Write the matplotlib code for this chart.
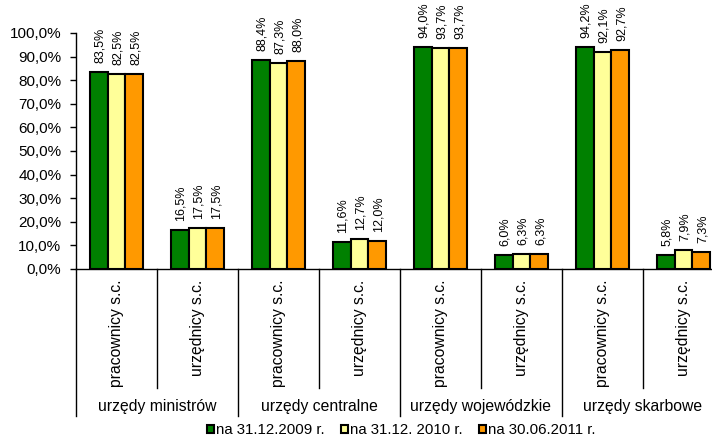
import matplotlib
matplotlib.use("Agg")
import matplotlib.pyplot as plt
from matplotlib.patches import Patch
import numpy as np

plt.rcParams['font.family'] = ['Liberation Sans', 'DejaVu Sans']

groups = ["urzędy ministrów", "urzędy centralne", "urzędy wojewódzkie", "urzędy skarbowe"]
subcats = ["pracownicy s.c.", "urzędnicy s.c."] * 4
series_names = ["na 31.12.2009 r.", "na 31.12. 2010 r.", "na 30.06.2011 r."]
v2009 = [83.5, 16.5, 88.4, 11.6, 94.0, 6.0, 94.2, 5.8]
v2010 = [82.5, 17.5, 87.3, 12.7, 93.7, 6.3, 92.1, 7.9]
v2011 = [82.5, 17.5, 88.0, 12.0, 93.7, 6.3, 92.7, 7.3]
colors = ["#008000", "#FFFF99", "#FF9900"]

W, H = 712, 438
fig = plt.figure(figsize=(W / 100, H / 100), dpi=100)
ax = fig.add_axes([76 / W, 1 - 269 / H, 648 / W, 236 / H])

x = np.arange(len(subcats))
bw = 0.222
for i, (vals, col) in enumerate(zip([v2009, v2010, v2011], colors)):
    pos = x + (i - 1) * bw
    ax.bar(pos, vals, width=bw, color=col, edgecolor="black", linewidth=1.5, zorder=3)
    for p, v in zip(pos, vals):
        ax.annotate(f"{v:.1f}%".replace(".", ","), (p, v), xytext=(1, 6.5),
                    textcoords="offset points", rotation=90, ha="center", va="bottom",
                    fontsize=9, annotation_clip=False)

ax.set_xlim(-0.5, 7.5)
ax.set_ylim(0, 100)
ax.set_yticks(np.arange(0, 101, 10))
ax.set_yticklabels([f"{t:.1f}%".replace(".", ",") for t in np.arange(0, 101, 10)], fontsize=11)
ax.tick_params(axis="y", direction="out", length=4, width=1, pad=6.5)
ax.set_xticks([])
for s in ["top", "right"]:
    ax.spines[s].set_visible(False)
ax.spines["left"].set_linewidth(1)
ax.spines["bottom"].set_linewidth(1)

trans = ax.get_xaxis_transform()
# separators between sub-categories (short) and between groups (long)
for xs in [0.5, 2.5, 4.5, 6.5]:
    ax.plot([xs, xs], [0, -0.504], transform=trans, color="black", lw=1, clip_on=False)
for xs in [-0.5, 1.5, 3.5, 5.5, 7.5]:
    ax.plot([xs, xs], [0, -0.623], transform=trans, color="black", lw=1, clip_on=False)

for xi, lab in zip(x, subcats):
    ax.text(xi, -0.045, lab, transform=trans, rotation=90, ha="center", va="top", fontsize=11.3)
for gi, g in enumerate(groups):
    ax.text(2 * gi + 0.5, -0.583, g, transform=trans, ha="center", va="center", fontsize=11.3)

handles = [Patch(facecolor=c, edgecolor="black", linewidth=1.5) for c in colors]
fig.legend(handles, series_names, loc="center", bbox_to_anchor=(0.564, 0.018), ncol=3,
           frameon=False, fontsize=10.8, handlelength=0.45, handleheight=0.45,
           handletextpad=0.15, columnspacing=1.1, borderpad=0, borderaxespad=0)

fig.savefig("out.png", dpi=100)
